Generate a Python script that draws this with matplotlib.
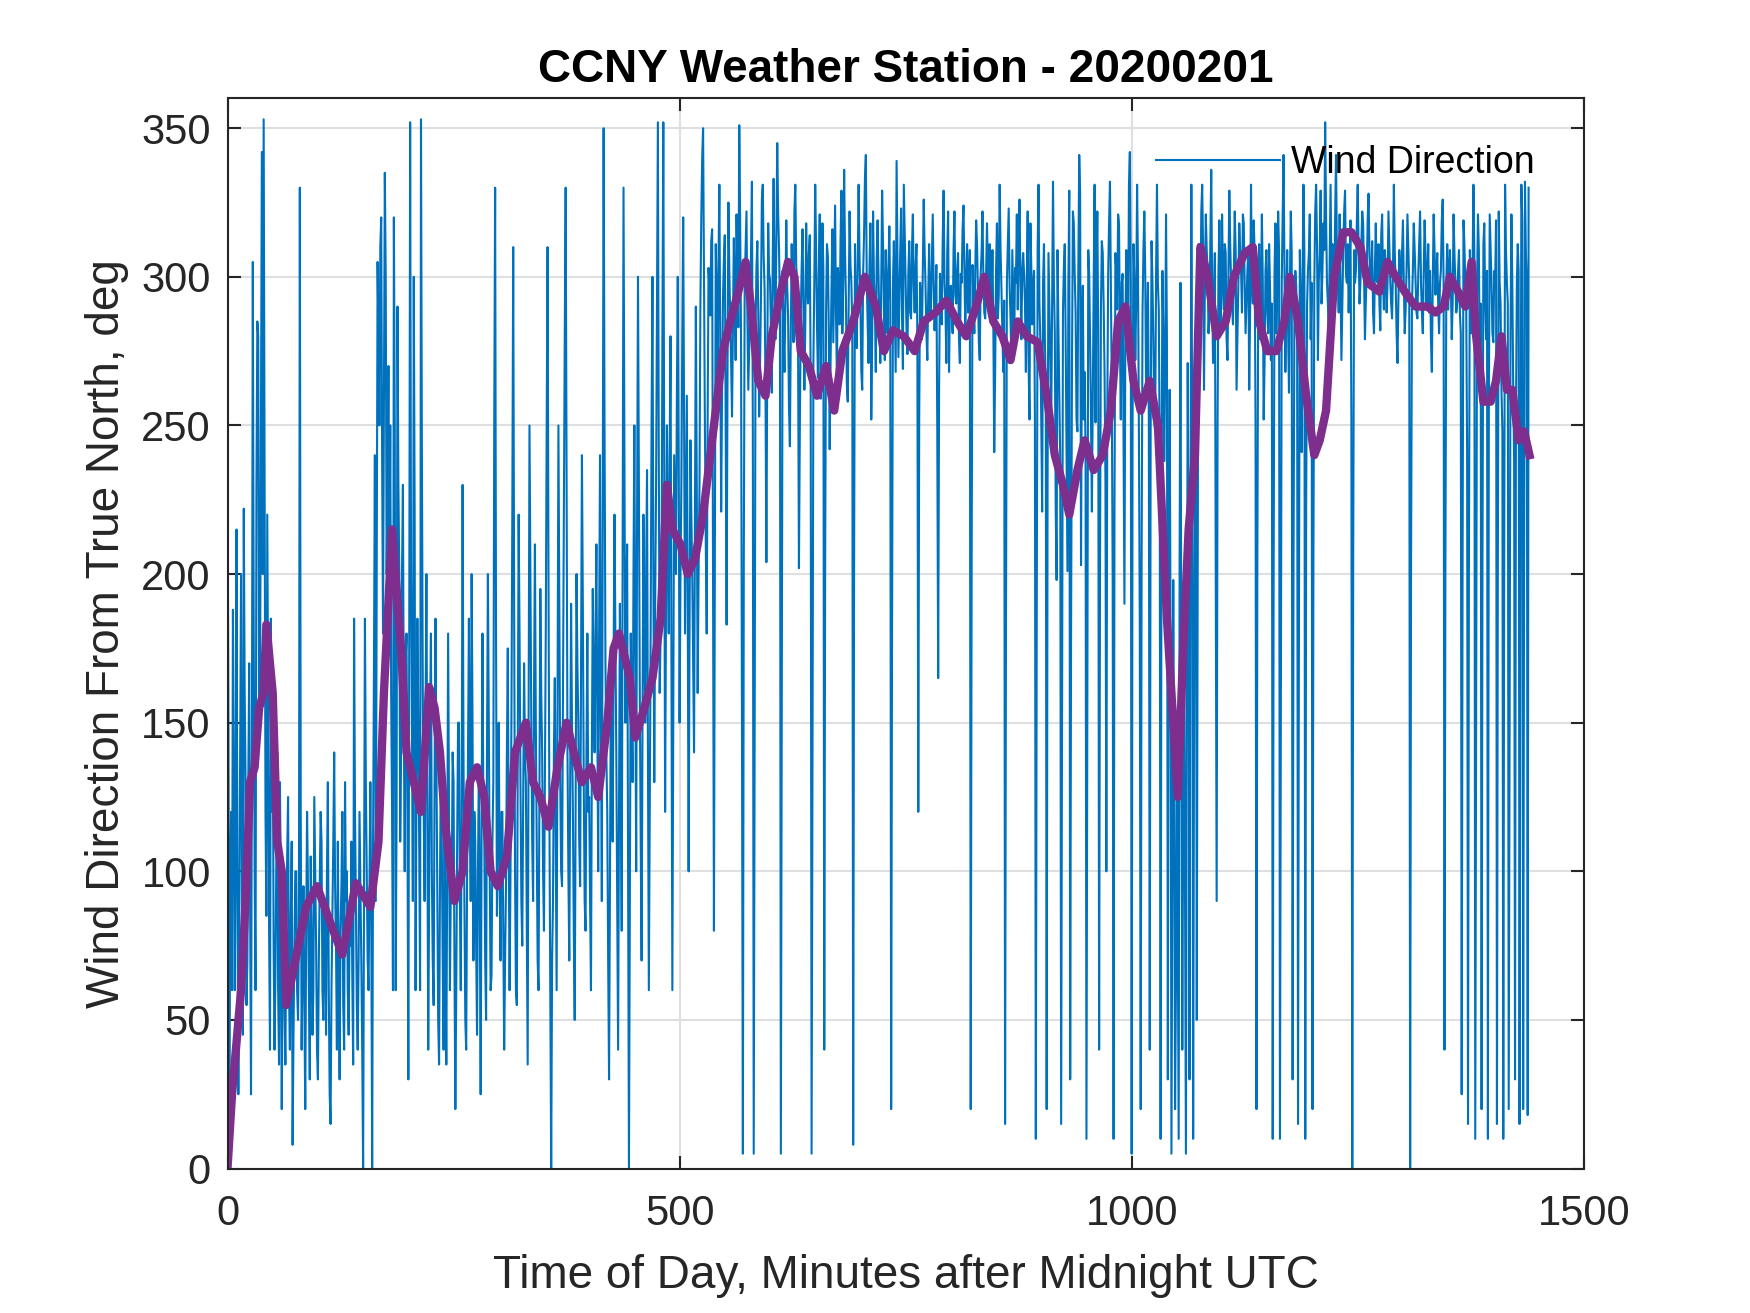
import numpy as np
import matplotlib
matplotlib.use("Agg")
import matplotlib.pyplot as plt

plt.rcParams['font.family'] = ['Liberation Sans', 'DejaVu Sans']

## --- data (wind direction, one value per minute)
wind_dir = [
    240, 150, 30, 95, 120, 60, 188, 140, 60, 110, 215, 90, 25, 80, 140, 200, 90, 45, 222, 160,
    130, 55, 70, 130, 170, 90, 25, 140, 305, 180, 100, 60, 230, 285, 280, 150, 160, 250, 342, 200,
    353, 240, 120, 85, 220, 150, 80, 40, 185, 120, 160, 75, 40, 65, 105, 140, 60, 35, 130, 90,
    20, 70, 95, 55, 35, 80, 105, 125, 60, 40, 85, 110, 8, 45, 75, 100, 100, 60, 50, 80,
    330, 120, 40, 70, 95, 55, 20, 80, 120, 95, 60, 30, 105, 80, 45, 60, 125, 100, 75, 40,
    30, 70, 95, 120, 110, 60, 50, 90, 80, 45, 100, 130, 60, 25, 15, 60, 85, 110, 140, 95,
    75, 40, 110, 65, 30, 80, 95, 120, 55, 40, 130, 90, 100, 60, 45, 80, 75, 110, 65, 35,
    185, 120, 90, 55, 40, 70, 120, 95, 70, 40, 0, 90, 185, 130, 100, 70, 60, 95, 130, 85,
    0, 110, 170, 240, 90, 200, 305, 280, 250, 310, 320, 240, 180, 260, 335, 300, 200, 230, 270, 190,
    250, 160, 120, 60, 320, 250, 60, 120, 290, 230, 200, 110, 140, 200, 230, 150, 100, 170, 180, 120,
    30, 180, 352, 200, 150, 90, 300, 220, 60, 130, 185, 150, 110, 60, 353, 240, 160, 120, 90, 150,
    200, 120, 40, 90, 150, 180, 100, 70, 55, 130, 185, 140, 90, 50, 35, 95, 140, 110, 70, 40,
    120, 80, 35, 100, 180, 120, 60, 95, 95, 140, 130, 70, 20, 60, 110, 150, 150, 90, 60, 120,
    230, 140, 90, 50, 40, 100, 140, 185, 130, 90, 200, 150, 70, 120, 110, 75, 45, 100, 135, 90,
    25, 110, 180, 120, 110, 70, 50, 140, 200, 150, 100, 60, 65, 110, 130, 250, 330, 180, 85, 120,
    150, 95, 70, 120, 120, 80, 40, 70, 95, 140, 175, 110, 60, 100, 150, 220, 310, 190, 100, 60,
    55, 140, 220, 180, 130, 90, 75, 120, 170, 140, 130, 80, 35, 150, 250, 200, 150, 110, 90, 160,
    210, 150, 110, 70, 60, 130, 195, 160, 140, 100, 80, 130, 180, 250, 310, 200, 120, 60, 0, 70,
    90, 140, 165, 110, 60, 150, 250, 190, 130, 100, 95, 160, 220, 280, 330, 240, 140, 100, 70, 130,
    190, 150, 120, 80, 50, 120, 200, 170, 150, 110, 95, 170, 240, 190, 130, 90, 80, 140, 180, 120,
    125, 90, 60, 140, 195, 160, 140, 180, 210, 150, 100, 180, 240, 150, 90, 220, 350, 250, 170, 140,
    120, 70, 30, 100, 165, 130, 110, 170, 220, 180, 140, 90, 40, 120, 190, 130, 80, 200, 330, 240,
    150, 190, 210, 100, 0, 90, 180, 150, 130, 200, 250, 170, 100, 220, 300, 230, 160, 110, 70, 150,
    220, 180, 150, 200, 235, 140, 60, 120, 180, 250, 300, 200, 130, 190, 230, 290, 352, 240, 160, 180,
    195, 280, 352, 230, 120, 190, 250, 210, 180, 240, 280, 170, 60, 150, 240, 220, 200, 260, 300, 240,
    150, 200, 230, 280, 320, 250, 180, 220, 260, 190, 100, 180, 245, 220, 200, 170, 140, 220, 290, 230,
    160, 200, 230, 290, 320, 340, 350, 300, 250, 210, 180, 250, 303, 296, 287, 312, 316, 200, 80, 205,
    311, 292, 268, 304, 331, 279, 221, 262, 293, 306, 314, 247, 183, 266, 325, 302, 287, 271, 253, 284,
    313, 296, 272, 321, 298, 283, 351, 318, 277, 150, 5, 203, 297, 309, 322, 286, 262, 276, 291, 308,
    332, 251, 5, 152, 281, 303, 312, 288, 253, 271, 293, 326, 331, 307, 296, 263, 204, 272, 318, 301,
    299, 283, 261, 306, 333, 297, 279, 314, 345, 322, 309, 288, 5, 152, 302, 281, 268, 292, 319, 297,
    287, 256, 243, 282, 311, 293, 278, 322, 331, 304, 298, 281, 202, 249, 286, 303, 316, 289, 262, 283,
    318, 297, 291, 308, 314, 263, 5, 141, 272, 298, 331, 309, 283, 266, 301, 321, 259, 292, 318, 303,
    40, 203, 288, 311, 307, 283, 242, 271, 296, 316, 278, 302, 324, 287, 266, 303, 297, 284, 312, 329,
    281, 298, 336, 308, 292, 264, 258, 291, 322, 304, 298, 283, 8, 202, 311, 288, 276, 302, 331, 307,
    292, 268, 262, 301, 314, 333, 341, 299, 284, 271, 303, 318, 252, 279, 322, 298, 291, 268, 306, 319,
    302, 283, 271, 297, 329, 311, 288, 272, 309, 296, 281, 303, 317, 291, 20, 183, 298, 312, 289, 268,
    339, 307, 273, 291, 308, 323, 287, 269, 331, 314, 298, 282, 274, 301, 312, 288, 286, 309, 321, 297,
    288, 303, 311, 278, 120, 252, 298, 291, 279, 302, 326, 309, 297, 281, 272, 294, 311, 286, 289, 306,
    321, 298, 282, 291, 304, 248, 165, 262, 301, 289, 284, 312, 329, 298, 291, 271, 308, 322, 268, 291,
    297, 288, 281, 309, 322, 294, 291, 302, 308, 279, 271, 301, 298, 316, 324, 302, 283, 299, 311, 288,
    292, 309, 20, 201, 304, 289, 281, 302, 319, 311, 294, 278, 272, 301, 308, 322, 299, 288, 286, 301,
    318, 302, 289, 311, 298, 291, 309, 284, 241, 268, 302, 318, 286, 294, 331, 309, 296, 281, 268, 292,
    15, 182, 298, 311, 323, 297, 286, 271, 309, 292, 274, 303, 298, 321, 289, 311, 326, 298, 279, 302,
    308, 301, 291, 268, 299, 322, 271, 252, 318, 303, 284, 297, 302, 251, 10, 183, 309, 331, 291, 278,
    252, 221, 298, 311, 279, 262, 20, 232, 308, 291, 272, 249, 293, 332, 298, 281, 222, 198, 309, 282,
    261, 238, 15, 152, 288, 303, 311, 279, 242, 201, 298, 329, 30, 182, 271, 322, 318, 301, 288, 252,
    248, 302, 341, 328, 203, 281, 297, 252, 268, 241, 10, 152, 309, 301, 279, 253, 221, 262, 298, 331,
    251, 297, 322, 281, 40, 203, 289, 312, 308, 291, 268, 231, 100, 252, 301, 318, 332, 297, 262, 198,
    10, 222, 308, 302, 289, 321, 318, 279, 252, 298, 301, 248, 190, 281, 309, 302, 278, 331, 342, 298,
    5, 252, 311, 298, 272, 291, 331, 302, 248, 181, 20, 203, 288, 309, 322, 301, 259, 282, 298, 251,
    40, 248, 312, 298, 279, 252, 248, 301, 331, 298, 289, 242, 10, 222, 302, 281, 238, 268, 321, 279,
    30, 203, 262, 181, 5, 102, 198, 122, 20, 62, 151, 78, 10, 201, 298, 152, 40, 121, 182, 88,
    5, 152, 271, 198, 30, 203, 331, 238, 10, 151, 242, 279, 50, 198, 311, 302, 288, 322, 331, 309,
    262, 298, 321, 309, 302, 281, 289, 311, 336, 297, 271, 292, 308, 203, 90, 251, 302, 319, 281, 292,
    321, 298, 289, 311, 308, 279, 272, 302, 329, 311, 298, 291, 284, 301, 322, 309, 262, 279, 298, 318,
    309, 302, 288, 321, 318, 297, 281, 291, 302, 309, 262, 288, 331, 298, 291, 319, 308, 251, 20, 203,
    298, 311, 279, 292, 321, 299, 252, 271, 302, 309, 288, 281, 311, 297, 272, 291, 10, 198, 302, 318,
    281, 298, 322, 309, 10, 152, 298, 321, 341, 302, 268, 291, 309, 282, 261, 298, 322, 308, 30, 203,
    288, 302, 297, 281, 15, 182, 309, 291, 241, 298, 331, 309, 10, 222, 291, 302, 308, 321, 279, 298,
    20, 203, 298, 322, 331, 311, 272, 299, 308, 329, 291, 302, 318, 309, 352, 321, 298, 291, 282, 308,
    331, 298, 311, 289, 292, 319, 341, 308, 302, 288, 321, 298, 272, 291, 309, 322, 329, 301, 298, 311,
    288, 302, 319, 252, 0, 203, 309, 298, 302, 318, 331, 309, 291, 298, 311, 322, 318, 301, 279, 292,
    301, 319, 328, 308, 296, 299, 312, 288, 281, 302, 318, 299, 298, 311, 291, 282, 314, 321, 298, 289,
    309, 302, 288, 298, 322, 311, 299, 291, 286, 302, 331, 308, 298, 281, 271, 292, 309, 301, 296, 308,
    319, 298, 281, 289, 302, 321, 309, 298, 0, 203, 291, 302, 318, 309, 298, 288, 286, 301, 311, 322,
    298, 288, 281, 302, 319, 308, 291, 299, 311, 288, 302, 279, 268, 298, 321, 309, 294, 302, 308, 291,
    281, 298, 302, 319, 326, 298, 40, 203, 298, 311, 289, 302, 309, 298, 279, 291, 321, 308, 298, 288,
    291, 302, 309, 288, 281, 25, 203, 319, 311, 298, 291, 241, 15, 202, 309, 298, 281, 302, 331, 308,
    10, 152, 298, 321, 309, 268, 291, 20, 203, 311, 318, 291, 279, 302, 10, 252, 321, 309, 298, 281,
    278, 302, 298, 319, 15, 203, 322, 298, 291, 262, 248, 10, 201, 331, 309, 298, 291, 20, 152, 281,
    321, 298, 262, 238, 30, 252, 298, 311, 302, 15, 203, 331, 319, 20, 198, 332, 308, 298, 18, 330,
]
minutes = np.arange(len(wind_dir))

# smoothed (running mean) curve
smooth_min = [0, 5, 15, 20, 25, 30, 35, 40, 43, 50, 55, 60, 65, 75, 87, 99, 117, 127, 142, 158,
              167, 173, 182, 192, 198, 206, 214, 223, 229, 235, 241, 251, 260, 268, 276, 284, 291, 299, 309, 318,
              330, 338, 346, 355, 365, 375, 383, 392, 402, 410, 420, 427, 433, 445, 451, 461, 470, 479, 486, 492,
              501, 509, 517, 526, 538, 548, 556, 565, 573, 579, 587, 595, 602, 612, 620, 627, 634, 643, 652, 662,
              671, 680, 692, 705, 717, 726, 736, 748, 760, 770, 783, 795, 807, 817, 828, 837, 847, 857, 866, 874,
              884, 896, 906, 915, 924, 931, 940, 948, 958, 968, 977, 985, 993, 1002, 1010, 1020, 1029, 1039, 1045, 1051,
              1057, 1063, 1070, 1076, 1084, 1094, 1104, 1113, 1125, 1134, 1141, 1150, 1160, 1169, 1175, 1184, 1193, 1202, 1208, 1215,
              1224, 1234, 1243, 1253, 1261, 1274, 1283, 1292, 1302, 1314, 1327, 1336, 1345, 1352, 1361, 1369, 1376, 1381, 1389, 1397,
              1403, 1409, 1415, 1421, 1428, 1434, 1440]
smooth_dir = [0, 25, 60, 90, 130, 135, 155, 160, 183, 160, 110, 100, 55, 70, 88, 95, 80, 72, 96, 88,
              110, 160, 215, 175, 140, 130, 120, 162, 155, 140, 115, 90, 100, 130, 135, 125, 100, 95, 105, 140,
              150, 130, 125, 115, 135, 150, 140, 130, 135, 125, 150, 175, 180, 165, 145, 155, 165, 185, 230, 215,
              210, 200, 205, 220, 250, 275, 285, 295, 305, 290, 265, 260, 280, 295, 305, 300, 275, 270, 260, 270,
              255, 275, 285, 300, 290, 275, 282, 280, 275, 285, 288, 292, 285, 280, 290, 300, 285, 280, 272, 285,
              280, 278, 260, 240, 230, 220, 235, 245, 235, 240, 255, 285, 290, 265, 255, 265, 250, 185, 155, 125,
              175, 215, 240, 310, 300, 280, 285, 300, 308, 310, 285, 275, 275, 285, 300, 285, 260, 240, 245, 255,
              300, 315, 315, 310, 298, 295, 305, 300, 295, 290, 290, 288, 290, 300, 295, 290, 305, 280, 258, 258,
              265, 280, 262, 262, 245, 248, 240]

## --- plot
fig = plt.figure(figsize=(1750 / 300, 1313 / 300), dpi=300)
ax = fig.add_axes([0.13, 0.11, 0.775, 0.815])

ax.plot(minutes, wind_dir, color='#0072BD', lw=0.5, label='Wind Direction')
ax.plot(smooth_min, smooth_dir, color='#7E2F8E', lw=2, label='_nolegend_')

ax.set_xlim(0, 1500)
ax.set_ylim(0, 360)
ax.set_xticks([0, 500, 1000, 1500])
ax.set_yticks(range(0, 351, 50))
ax.grid(True, color='#dfdfdf', lw=0.5)
ax.set_axisbelow(True)
for s in ax.spines.values():
    s.set_color('#262626')
    s.set_linewidth(0.5)
ax.tick_params(direction='in', length=3.2, width=0.5, colors='#262626',
               labelsize=10, top=True, right=True)
ax.tick_params(axis='x', pad=6)
ax.tick_params(axis='y', pad=4)

ax.set_xlabel('Time of Day, Minutes after Midnight UTC', fontsize=11,
              color='#262626', labelpad=5)
ax.set_ylabel('Wind Direction From True North, deg', fontsize=11,
              color='#262626', labelpad=3)
ax.set_title('CCNY Weather Station - 20200201', fontsize=11,
             fontweight='bold', pad=4)

ax.legend(loc='center right', bbox_to_anchor=(0.964, 0.94), frameon=False,
          fontsize=9, handlelength=3.3, handletextpad=0.3,
          borderpad=0, borderaxespad=0)

fig.savefig('out.png', dpi=300)
